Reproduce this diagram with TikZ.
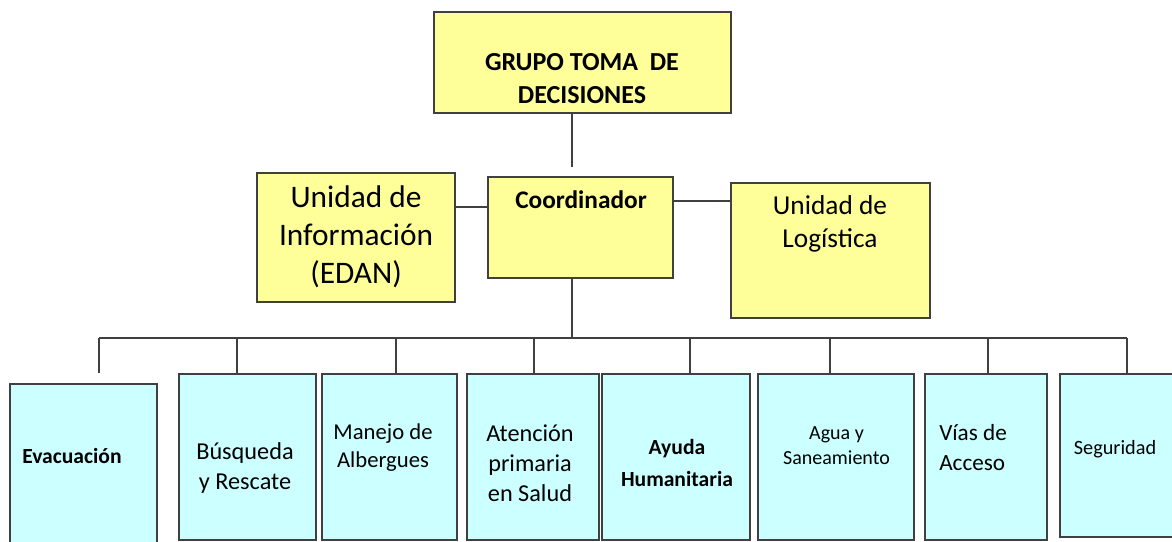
\documentclass[tikz,border=0pt]{standalone}
\usepackage{fontspec}
\setmainfont{Carlito}
\definecolor{ylw}{HTML}{FFFF99}
\definecolor{cyn}{HTML}{CCFFFF}
\definecolor{edge}{HTML}{404040}
\tikzset{
  box/.style={draw=edge, line width=1.1pt, inner sep=0pt, outer sep=0pt},
  ybox/.style={box, fill=ylw},
  cbox/.style={box, fill=cyn},
  wire/.style={draw=edge, line width=1.1pt},
  txt/.style={align=center, inner sep=0pt, text=black},
}
\newcommand\mkbox[6]{\node[#1, minimum width=#5*0.75pt, minimum height=#6*0.75pt] (#2) at (#3,#4) {};}
\begin{document}
\begin{tikzpicture}[x=0.75pt,y=-0.75pt]
\useasboundingbox (0,0) rectangle (1172,542);
\clip (0,0) rectangle (1172,542);
% boxes
\mkbox{ybox}{top}{582.5}{62.5}{297}{101}
\mkbox{ybox}{coord}{580.5}{227.5}{185}{101}
\mkbox{ybox}{info}{356}{237.5}{198}{129}
\mkbox{ybox}{log}{830.5}{250.5}{199}{135}
\mkbox{cbox}{evac}{83.5}{465}{147}{162}
\mkbox{cbox}{busq}{247.5}{457}{137}{166}
\mkbox{cbox}{manejo}{389.5}{457}{135}{166}
\mkbox{cbox}{aten}{533}{457}{132}{166}
\mkbox{cbox}{ayuda}{676}{457}{148}{166}
\mkbox{cbox}{agua}{836}{457}{156}{166}
\mkbox{cbox}{vias}{986}{457}{122}{166}
\mkbox{cbox}{seg}{1118}{455.5}{116}{163}
% texts
\node[txt, font=\bfseries\fontsize{19.5}{24.75}\selectfont] (ttop) at (582,78.5) {GRUPO TOMA \ DE\\DECISIONES};
\node[txt, font=\bfseries\fontsize{19}{22}\selectfont] (tcoord) at (581,200) {Coordinador};
\node[txt, font=\fontsize{23.5}{28.5}\selectfont] (tinfo) at (356,237) {Unidad de\\Información\\(EDAN)};
\node[txt, font=\fontsize{20.5}{24.75}\selectfont] (tlog) at (830,223.5) {Unidad de\\Logística};
\node[txt, anchor=west, font=\bfseries\fontsize{16.2}{19}\selectfont] (tevac) at (22,456) {Evacuación};
\node[txt, font=\fontsize{18.2}{22.5}\selectfont] (tbusq) at (245,468) {Búsqueda\\y Rescate};
\node[txt, font=\fontsize{17}{20.5}\selectfont] (tmanejo) at (383,447.5) {Manejo de\\Albergues};
\node[txt, font=\fontsize{18.2}{22.5}\selectfont] (taten) at (530,463) {Atención\\primaria\\en Salud};
\node[txt, font=\bfseries\fontsize{16.2}{24}\selectfont] (tayuda) at (677,463) {Ayuda\\Humanitaria};
\node[txt, font=\fontsize{15}{18.75}\selectfont] (tagua) at (836.5,445.5) {Agua y\\Saneamiento};
\node[txt, align=left, anchor=west, font=\fontsize{17.4}{22.5}\selectfont] (tvias) at (939,448) {Vías de\\Acceso};
\node[txt, font=\fontsize{15.2}{18}\selectfont] (tseg) at (1115,449) {Seguridad};
% connectors
\coordinate (topend) at (572,167);
\draw[wire] (top.south -| topend) -- (topend);
\draw[wire] (info.east |- 0,207) -- (coord.west |- 0,207);
\draw[wire] (coord.east |- 0,201) -- (log.west |- 0,201);
\coordinate (hub) at (572,338);
\draw[wire] (coord.south -| hub) -- (hub);
\coordinate (d1) at (99,338);
\coordinate (d2) at (237,338);
\coordinate (d3) at (396,338);
\coordinate (d4) at (534,338);
\coordinate (d5) at (690,338);
\coordinate (d6) at (830,338);
\coordinate (d7) at (988,338);
\coordinate (d8) at (1127,338);
\coordinate (e1) at (99,373);
\draw[wire] (d1) -- (d8);
\draw[wire] (d1) -- (e1);
\draw[wire] (d2) -- (d2 |- busq.north);
\draw[wire] (d3) -- (d3 |- manejo.north);
\draw[wire] (d4) -- (d4 |- aten.north);
\draw[wire] (d5) -- (d5 |- ayuda.north);
\draw[wire] (d6) -- (d6 |- agua.north);
\draw[wire] (d7) -- (d7 |- vias.north);
\draw[wire] (d8) -- (d8 |- seg.north);
\end{tikzpicture}
\end{document}
